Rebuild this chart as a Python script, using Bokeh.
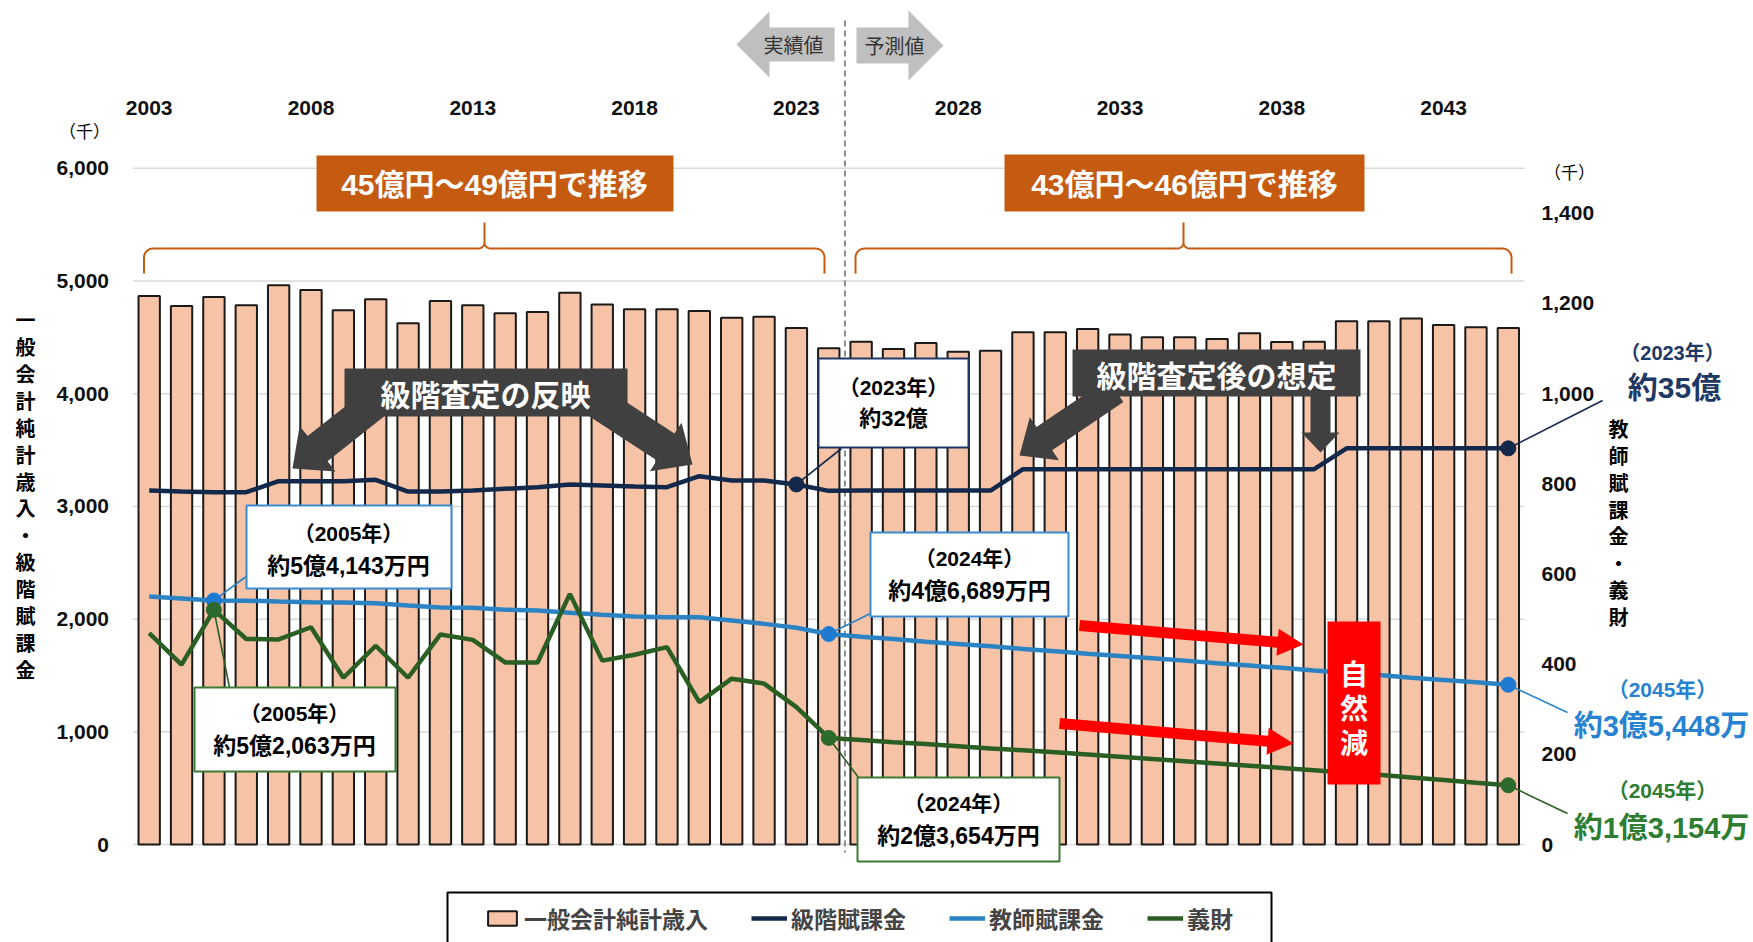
import math
from bokeh.plotting import figure
from bokeh.models import (Range1d, LinearAxis, FixedTicker, NumeralTickFormatter,
                          Legend, LegendItem)
from bokeh.core.properties import value
from bokeh.embed import file_html
from bokeh.resources import INLINE

# ---------------- data ----------------
YEARS = list(range(2003, 2046))
REVENUE = [4867, 4778, 4858, 4784, 4962, 4920, 4740, 4837, 4624, 4822,
           4784, 4713, 4725, 4896, 4790, 4748, 4748, 4734, 4674, 4683,
           4583, 4402, 4461, 4396, 4450, 4372, 4381, 4544, 4544, 4574,
           4526, 4500, 4500, 4485, 4535, 4458, 4461, 4642, 4642, 4666,
           4609, 4589, 4583]
KYUKAI = [3141, 3132, 3126, 3126, 3224, 3224, 3224, 3236, 3132, 3132,
          3141, 3156, 3170, 3194, 3185, 3176, 3170, 3268, 3230, 3230,
          3195, 3138, 3140, 3140, 3140, 3140, 3140, 3330, 3330, 3330,
          3330, 3330, 3330, 3330, 3330, 3330, 3330, 3515, 3515, 3515,
          3515, 3515, 3515]
TEACHER = [550, 546, 541.4, 541, 539, 537.5, 537, 535, 530, 526,
           525, 521, 519, 514, 509.5, 506, 504, 504, 497, 489.5,
           481, 466.9, 461, 456, 450, 445, 440, 434, 429, 423,
           418, 413, 408, 402, 397, 392, 386, 381, 376, 370,
           365, 360, 354.5]
GIZAI = [469, 399, 520.6, 456, 455, 482, 370, 441, 370, 466,
         454, 404, 404, 556, 408, 421, 438, 316, 368, 357,
         305, 236.5, 232, 227, 223, 218, 213, 209, 205, 200,
         195, 190, 185, 180, 175, 170, 165, 160, 155, 149,
         143, 137, 131.5]
LEFT_TICKS = [0, 1000, 2000, 3000, 4000, 5000, 6000]
RIGHT_TICKS = [0, 200, 400, 600, 800, 1000, 1200, 1400]
YEAR_TICKS = [2003, 2008, 2013, 2018, 2023, 2028, 2033, 2038, 2043]
SPLIT_YEAR = 2024.5
KYUKAI_MARKS = [2023, 2045]
TEACHER_MARKS = [2005, 2024, 2045]
GIZAI_MARKS = [2005, 2024, 2045]
LEGEND_LABELS = ["一般会計純計歳入", "級階賦課金", "教師賦課金", "義財"]
LEFT_TITLE = "一般会計純計歳入・級階賦課金"
RIGHT_TITLE = "教師賦課金・義財"

# ---------------- geometry ----------------
W, H = 1753, 942
XR = (1998.405, 2052.576)
YR = (-868.5, 7487.8)
RS = 4.0   # left-axis units per right-axis unit

FONT_NUM = "Liberation Sans, Noto Sans CJK JP"
FONT_JP = "Noto Sans CJK JP"

NAVY = "#13294B"
BLUE = "#2B83C3"
GREEN = "#2A5E22"
ORANGE = "#C55A11"
DARK = "#404040"
RED = "#FF0000"


def P(x, y):
    """page pixel position -> data coordinates (left axis units)"""
    return (XR[0] + x / W * (XR[1] - XR[0]),
            YR[1] - y / H * (YR[1] - YR[0]))


def PY(y):
    return P(0, y)[1]


p = figure(width=W, height=H, x_range=Range1d(*XR), y_range=Range1d(*YR),
           output_backend="svg", toolbar_location=None, tools="",
           min_border=0, x_axis_type=None, y_axis_type=None,
           outline_line_color=None, background_fill_color="white",
           border_fill_color="white")
p.extra_y_ranges = {"right": Range1d(YR[0] / RS, YR[1] / RS)}


def style_axis(ax, standoff):
    ax.axis_line_color = None
    ax.major_tick_line_color = None
    ax.minor_tick_line_color = None
    ax.major_label_standoff = standoff
    ax.major_label_text_font = "Liberation Sans"
    ax.major_label_text_font_size = "21px"
    ax.major_label_text_font_style = "bold"
    ax.major_label_text_color = "#111111"


x_lo = YEARS[0] - 0.5
x_hi = YEARS[-1] + 0.5

left_ax = LinearAxis(fixed_location=x_lo, ticker=FixedTicker(ticks=LEFT_TICKS),
                     formatter=NumeralTickFormatter(format="0,0"))
style_axis(left_ax, 18)
p.add_layout(left_ax, "left")

right_ax = LinearAxis(y_range_name="right", fixed_location=x_hi,
                      ticker=FixedTicker(ticks=RIGHT_TICKS),
                      formatter=NumeralTickFormatter(format="0,0"))
style_axis(right_ax, 11)
p.add_layout(right_ax, "right")

top_ax = LinearAxis(fixed_location=PY(126), ticker=FixedTicker(ticks=YEAR_TICKS),
                    formatter=NumeralTickFormatter(format="0"))
style_axis(top_ax, 6)
p.add_layout(top_ax, "above")

# gridlines
p.segment(x0=[x_lo] * len(LEFT_TICKS), x1=[x_hi] * len(LEFT_TICKS),
          y0=LEFT_TICKS, y1=LEFT_TICKS, line_color="#D9D9D9", line_width=1.5)


# ---------------- helpers ----------------
def txt(x, y, s, size, color="black", bold=True, font=FONT_NUM, lh=1.2, align="center"):
    X, Y = P(x, y)
    p.text(x=[X], y=[Y], text=[s], text_align=align, text_baseline="middle",
           text_font=value(font), text_font_size=value(f"{size}px"),
           text_font_style="bold" if bold else "normal", text_color=color,
           text_line_height=lh)


def box(x0, y0, x1, y1, fill, line=None, lw=2):
    l, t = P(x0, y0)
    r, b = P(x1, y1)
    p.quad(left=[l], right=[r], top=[t], bottom=[b], fill_color=fill,
           line_color=line, line_width=lw)


def arrow(sx, sy, tx, ty, shaft, head, head_len, color):
    dxv, dyv = tx - sx, ty - sy
    L = math.hypot(dxv, dyv)
    ux, uy = dxv / L, dyv / L
    nx, ny = -uy, ux
    bx, by = tx - ux * head_len, ty - uy * head_len
    pts = [(sx + nx * shaft / 2, sy + ny * shaft / 2),
           (bx + nx * shaft / 2, by + ny * shaft / 2),
           (bx + nx * head / 2, by + ny * head / 2),
           (tx, ty),
           (bx - nx * head / 2, by - ny * head / 2),
           (bx - nx * shaft / 2, by - ny * shaft / 2),
           (sx - nx * shaft / 2, sy - ny * shaft / 2)]
    conv = [P(a, b) for a, b in pts]
    p.patch(x=[c[0] for c in conv], y=[c[1] for c in conv],
            fill_color=color, line_color=None)


def brace(x0, x1, xm, yb, ye, yt, r=9, rm=6):
    pts = [(x0, ye)]
    for a in range(180, 271, 10):
        t = math.radians(a)
        pts.append((x0 + r + r * math.cos(t), yb + r + r * math.sin(t)))
    for a in range(90, -1, -10):
        t = math.radians(a)
        pts.append((xm - rm + rm * math.cos(t), yb - rm + rm * math.sin(t)))
    pts.append((xm, yt))
    for a in range(180, 89, -10):
        t = math.radians(a)
        pts.append((xm + rm + rm * math.cos(t), yb - rm + rm * math.sin(t)))
    for a in range(270, 361, 10):
        t = math.radians(a)
        pts.append((x1 - r + r * math.cos(t), yb + r + r * math.sin(t)))
    pts.append((x1, ye))
    conv = [P(a, b) for a, b in pts]
    p.line(x=[c[0] for c in conv], y=[c[1] for c in conv],
           line_color=ORANGE, line_width=2)


def leader(x0, y0, px1, py1, color):
    X1, Y1 = P(px1, py1)
    p.segment(x0=[x0], y0=[y0], x1=[X1], y1=[Y1], line_color=color, line_width=1.6)


# ---------------- bars ----------------
bars = p.vbar(x=YEARS, top=REVENUE, bottom=0, width=0.66, fill_color="#F6C3A7",
              line_color="#1A1A1A", line_width=2)

# split dashed line
p.segment(x0=[SPLIT_YEAR], x1=[SPLIT_YEAR], y0=[PY(20)], y1=[PY(852)],
          line_color="#8C8C8C", line_width=2, line_dash="6 4")

# top arrows
arrow(834, 44, 736, 44, 34, 66, 33, "#BFBFBF")
arrow(856, 45, 943, 45, 36, 70, 35, "#BFBFBF")
txt(793, 44, "実績値", 20, color="#333333", bold=False, font=FONT_JP)
txt(894, 45, "予測値", 20, color="#333333", bold=False, font=FONT_JP)

# unit labels
txt(84, 130, "（千）", 17, bold=False, font=FONT_JP)
txt(1569, 171, "（千）", 17, bold=False, font=FONT_JP)

# axis titles (stacked vertical characters)
txt(25, 494, "\n".join(LEFT_TITLE), 20, font=FONT_JP, lh=0.928)
txt(1618, 522, "\n".join(RIGHT_TITLE), 20, font=FONT_JP, lh=0.928)

# orange range boxes + braces
box(316, 155, 673, 211, ORANGE)
txt(494, 184, "45億円～49億円で推移", 30, color="white")
box(1004, 154, 1364, 211, ORANGE)
txt(1184, 184, "43億円～46億円で推移", 30, color="white")
brace(143.5, 824, 484, 248, 273, 222)
brace(855, 1511, 1183, 248, 273, 222)

# dark banners with arrows
box(344, 368, 627, 416, DARK)
arrow(378, 400, 292, 468, 32, 58, 32, DARK)
arrow(594, 400, 692, 464, 32, 58, 32, DARK)
txt(485, 392, "級階査定の反映", 30, color="white", font=FONT_JP)

box(1072, 349, 1360, 396, DARK)
arrow(1115, 390, 1019, 455, 28, 52, 30, DARK)
arrow(1320, 390, 1320, 452, 20, 38, 20, DARK)
txt(1216, 373, "級階査定後の想定", 30, color="white", font=FONT_JP)

# ---------------- lines ----------------
ln_k = p.line(YEARS, KYUKAI, line_color=NAVY, line_width=4.5)
ln_t = p.line(YEARS, TEACHER, line_color=BLUE, line_width=4.5, y_range_name="right")
ln_g = p.line(YEARS, GIZAI, line_color=GREEN, line_width=4.5, y_range_name="right")

kv = dict(zip(YEARS, KYUKAI))
tv = dict(zip(YEARS, TEACHER))
gv = dict(zip(YEARS, GIZAI))

# red "natural decrease" arrows and box (above lines)
arrow(1079, 625, 1303, 644, 11, 27, 26, RED)
arrow(1059, 723, 1293, 743, 11, 27, 26, RED)
box(1327, 621, 1380, 784, RED)
txt(1353.5, 707, "自\n然\n減", 28, color="white", font=FONT_JP, lh=0.86)

# leader lines
leader(2023, kv[2023], 841, 448, NAVY)
leader(2005, tv[2005] * RS, 247, 575, BLUE)
leader(2005, gv[2005] * RS, 229, 687, GREEN)
leader(2024, tv[2024] * RS, 872, 612, BLUE)
leader(2024, gv[2024] * RS, 858, 777, GREEN)
leader(2045, kv[2045], 1602, 400, NAVY)
leader(2045, tv[2045] * RS, 1567, 712, BLUE)
leader(2045, gv[2045] * RS, 1567, 813, GREEN)

# highlighted points
p.scatter(KYUKAI_MARKS, [kv[y] for y in KYUKAI_MARKS], size=15, fill_color=NAVY, line_color=NAVY)
p.scatter(TEACHER_MARKS, [tv[y] for y in TEACHER_MARKS], size=15, fill_color="#1F7BD1",
          line_color="#1F7BD1", y_range_name="right")
p.scatter(GIZAI_MARKS, [gv[y] for y in GIZAI_MARKS], size=15, fill_color="#2D6A2D",
          line_color="#2D6A2D", y_range_name="right")

# callout boxes
box(818, 358, 968, 447, "white", "#1F3864")
txt(893, 387, "（2023年）", 21)
txt(893, 418, "約32億", 22)

box(246, 505, 451, 588, "white", "#3A8BD1")
txt(348, 533, "（2005年）", 21)
txt(348, 565, "約5億4,143万円", 23)

box(194, 687, 395, 771, "white", "#3E7B32")
txt(294, 713, "（2005年）", 21)
txt(294, 745, "約5億2,063万円", 23)

box(870, 532, 1068, 616, "white", "#3A8BD1")
txt(969, 558, "（2024年）", 21)
txt(969, 590, "約4億6,689万円", 23)

box(857, 777, 1059, 861, "white", "#3E7B32")
txt(958, 803, "（2024年）", 21)
txt(958, 835, "約2億3,654万円", 23)

# right-side labels
txt(1672, 352, "（2023年）", 20, color="#1F3864")
txt(1674, 387, "約35億", 30, color="#1F3864")
txt(1662, 689, "（2045年）", 21, color="#2882D2")
txt(1661, 725, "約3億5,448万", 29, color="#2882D2")
txt(1662, 790, "（2045年）", 21, color="#2E7D32")
txt(1661, 827, "約1億3,154万", 29, color="#2E7D32")

# ---------------- legend ----------------
box(447, 892, 1271, 980, "white", "black", 2)
legend = Legend(items=[LegendItem(label=LEGEND_LABELS[0], renderers=[bars]),
                       LegendItem(label=LEGEND_LABELS[1], renderers=[ln_k]),
                       LegendItem(label=LEGEND_LABELS[2], renderers=[ln_t]),
                       LegendItem(label=LEGEND_LABELS[3], renderers=[ln_g])],
                orientation="horizontal", location=(484, 7))
legend.border_line_color = None
legend.background_fill_alpha = 0
legend.label_text_font = FONT_JP
legend.label_text_font_size = "23px"
legend.label_text_font_style = "bold"
legend.glyph_width = 36
legend.glyph_height = 18
legend.label_standoff = 4
legend.spacing = 43
legend.padding = 10
legend.margin = 0
legend.label_height = 20
p.add_layout(legend)

open("out.html", "w").write(file_html(p, INLINE))
